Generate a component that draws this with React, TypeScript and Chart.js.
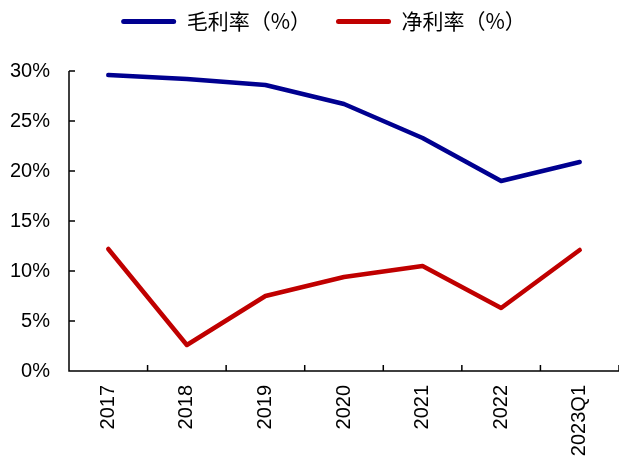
import React, { useEffect, useRef } from 'react';
import { Chart, registerables } from 'chart.js';
Chart.register(...registerables);

const categories = ['2017', '2018', '2019', '2020', '2021', '2022', '2023Q1'];
const grossMargin = [29.6, 29.2, 28.6, 26.7, 23.3, 19.0, 20.9];
const netMargin = [12.2, 2.6, 7.5, 9.4, 10.5, 6.3, 12.1];
const seriesNames = ['毛利率（%）', '净利率（%）'];
const seriesColors = ['#000090', '#C00000'];
const yTicks = [0, 5, 10, 15, 20, 25, 30];

const legendSpacing = {
  id: 'legendSpacing',
  beforeInit(chart: any) {
    const legend = chart.legend;
    const orig = legend.fit;
    legend.fit = function () {
      orig.call(this);
      this.height += 29;
    };
  },
  afterLayout(chart: any) {
    chart.legend.left += 14;
    chart.legend.right += 14;
  },
};

const axisPlugin = {
  id: 'axisPlugin',
  beforeDatasetsDraw(chart: any) {
    const { ctx, chartArea, scales } = chart;
    const x = scales.x;
    const y = scales.y;
    ctx.save();
    ctx.strokeStyle = '#000';
    ctx.lineWidth = 1.5;
    ctx.beginPath();
    ctx.moveTo(chartArea.left, chartArea.top);
    ctx.lineTo(chartArea.left, chartArea.bottom);
    ctx.lineTo(chartArea.right, chartArea.bottom);
    for (const v of yTicks) {
      const py = y.getPixelForValue(v);
      ctx.moveTo(chartArea.left, py);
      ctx.lineTo(chartArea.left + 6, py);
    }
    const n = categories.length;
    const step = x.getPixelForValue(1) - x.getPixelForValue(0);
    for (let i = 0; i <= n; i++) {
      const px = x.getPixelForValue(0) - step / 2 + i * step;
      ctx.moveTo(px, chartArea.bottom);
      ctx.lineTo(px, chartArea.bottom - 6);
    }
    ctx.stroke();
    ctx.restore();
  },
};

export default function App() {
  const ref = useRef<HTMLCanvasElement>(null);
  useEffect(() => {
    document.body.style.margin = '0';
    const chart = new Chart(ref.current!, {
      type: 'line',
      data: {
        labels: categories,
        datasets: [
          {
            label: seriesNames[0],
            data: grossMargin,
            borderColor: seriesColors[0],
            backgroundColor: seriesColors[0],
            borderWidth: 4.5,
            pointRadius: 0,
            tension: 0,
            borderCapStyle: 'round',
            borderJoinStyle: 'round',
          },
          {
            label: seriesNames[1],
            data: netMargin,
            borderColor: seriesColors[1],
            backgroundColor: seriesColors[1],
            borderWidth: 4.5,
            pointRadius: 0,
            tension: 0,
            borderCapStyle: 'round',
            borderJoinStyle: 'round',
          },
        ],
      },
      options: {
        animation: false,
        responsive: false,
        maintainAspectRatio: false,
        layout: { padding: { top: -14, left: 0, right: 0, bottom: 0 } },
        plugins: {
          tooltip: { enabled: false },
          legend: {
            display: true,
            position: 'top',
            labels: {
              boxWidth: 55,
              boxHeight: 5,
              padding: 25,
              color: '#000',
              font: { family: '"Noto Sans CJK SC", sans-serif', size: 21 },
              generateLabels: (c: any) =>
                c.data.datasets.map((d: any, i: number) => ({
                  text: d.label,
                  fillStyle: seriesColors[i],
                  strokeStyle: seriesColors[i],
                  lineWidth: 0,
                  borderRadius: 2.5,
                  datasetIndex: i,
                  fontColor: '#000',
                })),
            },
          },
        },
        scales: {
          x: {
            offset: true,
            grid: { display: false, drawTicks: false },
            border: { display: false },
            ticks: {
              minRotation: 90,
              maxRotation: 90,
              padding: 14,
              color: '#000',
              font: { family: '"Liberation Sans", Arial, sans-serif', size: 20 },
            },
            afterFit: (s: any) => {
              s.height = 86;
            },
          },
          y: {
            min: 0,
            max: 30,
            grid: { display: false, drawTicks: false },
            border: { display: false },
            ticks: {
              stepSize: 5,
              padding: 19,
              color: '#000',
              font: { family: '"Liberation Sans", Arial, sans-serif', size: 20 },
              callback: (v: any) => v + '%',
            },
            afterFit: (s: any) => {
              s.width = 69;
            },
          },
        },
      },
      plugins: [legendSpacing, axisPlugin],
    });
    return () => chart.destroy();
  }, []);
  return (
    <div style={{ position: 'relative', width: 619, height: 457, overflow: 'hidden' }}>
      <canvas ref={ref} width={619} height={457} style={{ display: 'block' }} />
    </div>
  );
}
